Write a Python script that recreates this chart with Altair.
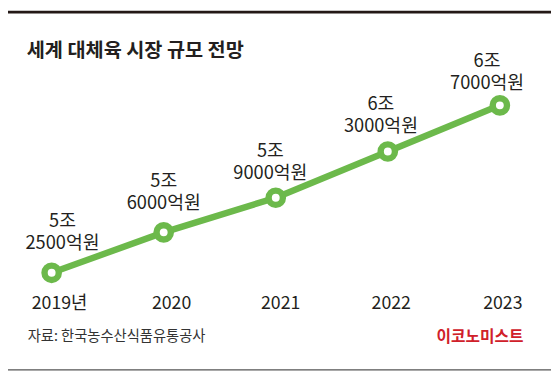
import altair as alt
import pandas as pd

# ---- data ----
years = [2019, 2020, 2021, 2022, 2023]
values_eok = [52500, 56000, 59000, 63000, 67000]  # 억원
year_labels = ["2019년", "2020", "2021", "2022", "2023"]
title_text = "세계 대체육 시장 규모 전망"
source_text = "자료: 한국농수산식품유통공사"
brand_text = "이코노미스트"

# ---- styling (label nudges in px) ----
label_dx = [11, 0, -5.5, -7, -13]
label_dy = [-24, -24, -19, -20, -17]
axis_dx = [8, 8, 5, 3.5, 3]

GREEN = "#6cb94b"
DARK = "#231f20"
FONT = "Noto Sans CJK KR"
W, H = 551, 366

df = pd.DataFrame({
    "year": years,
    "value": [v / 10000 for v in values_eok],
    "label": [f"{v // 10000}조\n{v % 10000}억원" for v in values_eok],
    "ylab": year_labels,
})

xs = alt.Scale(domain=[2018.6104, 2018.6104 + W / 113.7])
ys = alt.Scale(domain=[5.25 - (H - 266) / 117.2, 5.25 + 266 / 117.2])
X = alt.X("year:Q", scale=xs, axis=None)
Y = alt.Y("value:Q", scale=ys, axis=None)

base = alt.Chart(df)

line = base.mark_line(color=GREEN, strokeWidth=6.5).encode(x=X, y=Y)
pts = base.mark_point(shape="circle", filled=True, fill="white", stroke=GREEN,
                      strokeWidth=6.5, size=210, opacity=1).encode(x=X, y=Y)

text_layers = []
for yr, ldx, ldy, adx in zip(years, label_dx, label_dy, axis_dx):
    sub = base.transform_filter(alt.datum.year == yr)
    text_layers.append(sub.mark_text(font=FONT, fontSize=18.5, color=DARK, align="center",
                                     baseline="alphabetic", lineBreak="\n", lineHeight=22,
                                     dx=ldx, dy=ldy - 22).encode(
        x=X, y=Y, text="label:N"))
    text_layers.append(sub.mark_text(font=FONT, fontSize=18, color=DARK, align="center",
                                     baseline="alphabetic", dx=adx).encode(
        x=X, y=alt.value(303), text="ylab:N"))

title = alt.Chart(pd.DataFrame({"t": [title_text]})).mark_text(
    font=FONT, fontSize=20, fontWeight="bold", color=DARK, align="left",
    baseline="alphabetic").encode(x=alt.value(19), y=alt.value(47), text="t:N")

source = alt.Chart(pd.DataFrame({"t": [source_text]})).mark_text(
    font=FONT, fontSize=14.5, color="#333333", align="left",
    baseline="alphabetic").encode(x=alt.value(20), y=alt.value(335), text="t:N")

brand = alt.Chart(pd.DataFrame({"t": [brand_text]})).mark_text(
    font=FONT, fontSize=16, fontWeight="bold", color="#d0202a", align="right",
    baseline="alphabetic").encode(x=alt.value(523), y=alt.value(336), text="t:N")

topbar = alt.Chart(pd.DataFrame({"a": [0]})).mark_rect(color="#231816").encode(
    x=alt.value(0), x2=alt.value(W), y=alt.value(0), y2=alt.value(3))
bottom = alt.Chart(pd.DataFrame({"a": [0]})).mark_rule(color="#555555", strokeWidth=1.5).encode(
    x=alt.value(0), x2=alt.value(W), y=alt.value(364.5))

chart = alt.layer(topbar, bottom, title, line, pts, *text_layers, source, brand).properties(
    width=W, height=H, padding=0, autosize=alt.AutoSizeParams(type="none"),
    background="white"
).configure_view(stroke=None)

chart.save("out.html", embed_options={"renderer": "svg", "actions": False})
